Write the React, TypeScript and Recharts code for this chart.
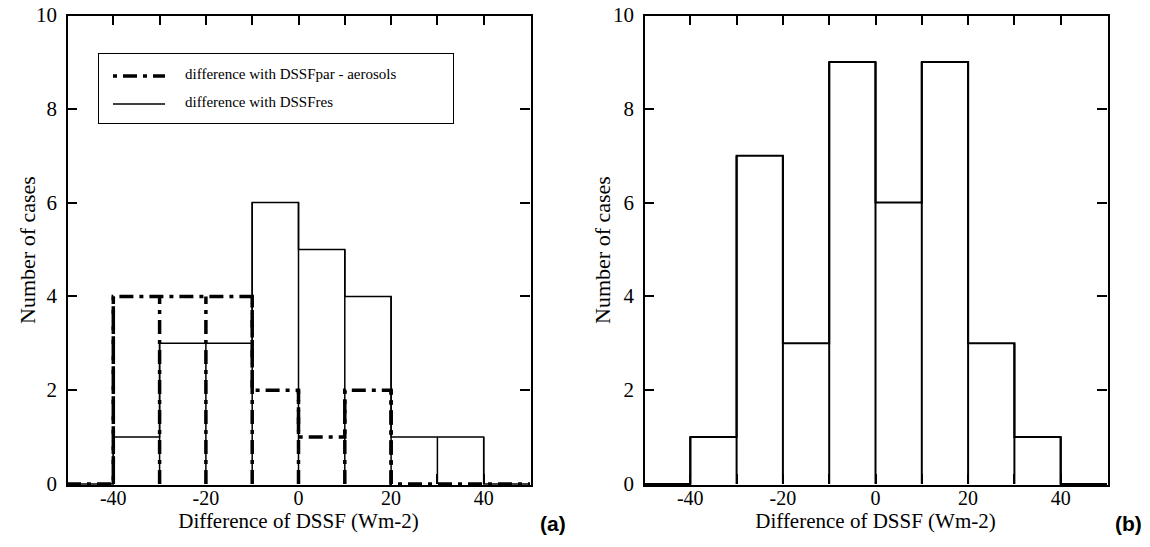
import { LineChart, Line, XAxis, YAxis, ReferenceLine } from 'recharts';

const edges = [-50, -40, -30, -20, -10, 0, 10, 20, 30, 40, 50];
const xTicks = [-40, -20, 0, 20, 40];
const xMinor = [-40, -30, -20, -10, 0, 10, 20, 30, 40];
const yTicks = [0, 2, 4, 6, 8, 10];

// counts per 10 Wm-2 bin, starting at -50
const resA = [0, 1, 3, 3, 6, 5, 4, 1, 1, 0];
const parA = [0, 4, 4, 4, 2, 1, 2, 0, 0, 0];
const resB = [0, 1, 7, 3, 9, 6, 9, 3, 1, 0];

const DASH = '14 6 4 6';
const FONT = 'Liberation Serif, Times New Roman, serif';
const PW = 463;
const PH = 469;
const TOP = 15;

function rows(series: Record<string, number[]>) {
  return edges.map((x, i) => {
    const r: Record<string, number> = { x };
    for (const k in series) r[k] = series[k][Math.min(i, series[k].length - 1)];
    return r;
  });
}

function edgeLines(bins: number[], dash?: string, width = 1.5) {
  return edges.slice(1, -1).map((x, i) => {
    const h = Math.max(bins[i], bins[i + 1]);
    if (h === 0) return null;
    return (
      <ReferenceLine
        key={`e${x}${dash ? 'd' : ''}`}
        xAxisId="b"
        yAxisId="l"
        segment={[{ x, y: 0 }, { x, y: h }]}
        stroke="#000"
        strokeWidth={width}
        strokeDasharray={dash}
        ifOverflow="visible"
      />
    );
  });
}

const bar = (k: string, l: number, t: number, w: number, h: number) => (
  <div key={k} style={{ position: 'absolute', left: l, top: t, width: w, height: h, background: '#000' }} />
);

// frame with inward ticks on all four sides
function Frame({ left }: { left: number }) {
  const sx = (v: number) => ((v + 50) / 100) * PW;
  const sy = (v: number) => PH - (v / 10) * PH;
  return (
    <div style={{ position: 'absolute', left, top: TOP, width: PW, height: PH, pointerEvents: 'none' }}>
      <div style={{ position: 'absolute', left: -1, top: -1, width: PW, height: PH, border: '2px solid #000' }} />
      {xMinor.map((x) => bar(`b${x}`, sx(x) - 1, PH - 10, 2, 10))}
      {xMinor.map((x) => bar(`t${x}`, sx(x) - 1, 0, 2, 10))}
      {yTicks.slice(1, -1).map((y) => bar(`l${y}`, 0, sy(y) - 1, 10, 2))}
      {yTicks.slice(1, -1).map((y) => bar(`r${y}`, PW - 10, sy(y) - 1, 10, 2))}
    </div>
  );
}

const BottomTick = (p: any) => {
  const v = p.payload.value;
  if (!xTicks.includes(v)) return <g />;
  return (
    <text x={p.x} y={p.y + 19} textAnchor="middle" fontSize={20} fontFamily={FONT} fill="#000">
      {v}
    </text>
  );
};
const LeftTick = (p: any) => (
  <text x={p.x - 8} y={p.y + 7} textAnchor="end" fontSize={21} fontFamily={FONT} fill="#000">
    {p.payload.value}
  </text>
);

function Panel({ left, marginLeft, label, children, data }: any) {
  return (
    <div style={{ position: 'absolute', left, top: 0, width: 575, height: 547 }}>
      <LineChart
        width={575}
        height={547}
        data={data}
        margin={{ top: TOP, right: 575 - marginLeft - PW, bottom: 547 - TOP - PH - 1, left: marginLeft - 1 }}
      >
        <XAxis xAxisId="b" dataKey="x" type="number" domain={[-50, 50]} ticks={xMinor} interval={0}
          height={1} axisLine={false} tickLine={false} tickSize={0} tick={BottomTick} />
        <YAxis yAxisId="l" type="number" domain={[0, 10]} ticks={yTicks} interval={0}
          width={1} axisLine={false} tickLine={false} tickSize={0} tick={LeftTick} />
        {children}
      </LineChart>
      <Frame left={marginLeft} />
      <div style={{ position: 'absolute', left: marginLeft + PW / 2, top: 510, transform: 'translateX(-50%)',
        fontFamily: FONT, fontSize: 21, whiteSpace: 'nowrap', lineHeight: '22px' }}>Difference of DSSF (Wm-2)</div>
      <div style={{ position: 'absolute', left: 28, top: 250, transform: 'translate(-50%,-50%) rotate(-90deg)',
        fontFamily: FONT, fontSize: 22, whiteSpace: 'nowrap' }}>Number of cases</div>
      <div style={{ position: 'absolute', left: 540, top: 512, fontFamily: 'Liberation Sans, Arial, sans-serif',
        fontWeight: 'bold', fontSize: 21 }}>{label}</div>
    </div>
  );
}

export default function App() {
  const dataA = rows({ res: resA, par: parA });
  const dataB = rows({ res: resB });
  return (
    <div style={{ position: 'absolute', left: 0, top: 0, width: 1150, height: 547, background: '#fff' }}>
      <Panel left={0} marginLeft={67} label="(a)" data={dataA}>
        {edgeLines(parA, DASH, 3.5)}
        {edgeLines(resA)}
        <Line xAxisId="b" yAxisId="l" type="stepAfter" dataKey="par" stroke="#000" strokeWidth={3.5}
          strokeDasharray={DASH} dot={false} isAnimationActive={false} />
        <Line xAxisId="b" yAxisId="l" type="stepAfter" dataKey="res" stroke="#000" strokeWidth={1.5}
          dot={false} isAnimationActive={false} />
      </Panel>
      <Panel left={575} marginLeft={69} label="(b)" data={dataB}>
        {edgeLines(resB, undefined, 2)}
        <Line xAxisId="b" yAxisId="l" type="stepAfter" dataKey="res" stroke="#000" strokeWidth={2}
          dot={false} isAnimationActive={false} />
      </Panel>
      <div style={{ position: 'absolute', left: 98, top: 53, width: 354, height: 69, border: '1px solid #000',
        background: '#fff', fontFamily: FONT, fontSize: 15 }}>
        <svg width={60} height={69} style={{ position: 'absolute', left: 14, top: 0 }}>
          <line x1={0} x2={52} y1={22} y2={22} stroke="#000" strokeWidth={3.5} strokeDasharray="4 6 14 6" />
          <line x1={0} x2={52} y1={50} y2={50} stroke="#000" strokeWidth={1.5} />
        </svg>
        <div style={{ position: 'absolute', left: 86, top: 12 }}>difference with DSSFpar - aerosols</div>
        <div style={{ position: 'absolute', left: 86, top: 40 }}>difference with DSSFres</div>
      </div>
    </div>
  );
}
